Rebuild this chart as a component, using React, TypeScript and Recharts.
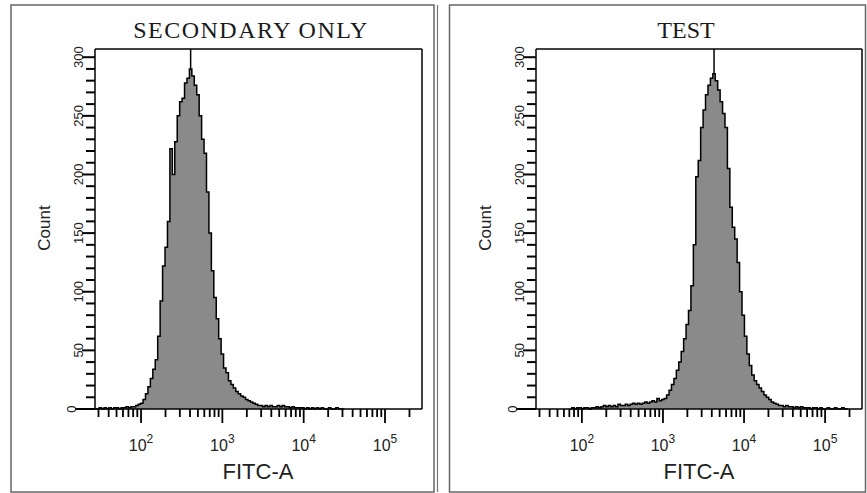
import { ComposedChart, Area, XAxis, YAxis, ReferenceLine } from 'recharts';

const secondaryBins = [
  1.44, 1.47, 1.50, 1.53, 1.56, 1.59, 1.62, 1.65, 1.68, 1.71, 1.74, 1.77, 1.80, 1.83, 1.86, 1.89, 1.92, 1.95, 1.98, 2.01,
  2.04, 2.07, 2.10, 2.13, 2.16, 2.19, 2.22, 2.25, 2.28, 2.31, 2.34, 2.37, 2.40, 2.43, 2.46, 2.49, 2.52, 2.55, 2.58, 2.61,
  2.64, 2.67, 2.70, 2.73, 2.76, 2.79, 2.82, 2.85, 2.88, 2.91, 2.94, 2.97, 3.00, 3.03, 3.06, 3.09, 3.12, 3.15, 3.18, 3.21,
  3.24, 3.27, 3.30, 3.33, 3.36, 3.39, 3.42, 3.45, 3.48, 3.51, 3.54, 3.57, 3.60, 3.63, 3.66, 3.69, 3.72, 3.75, 3.78, 3.81,
  3.84, 3.87, 3.90, 3.93, 3.96, 3.99, 4.02, 4.05, 4.08, 4.11, 4.14, 4.17, 4.20, 4.23, 4.26, 4.29, 4.32, 4.35, 4.38, 4.41,
  4.44, 4.47, 4.50,
];
const secondaryCounts = [
  0, 0, 1, 0, 1, 0, 1, 0, 1, 1, 0, 1, 1, 2, 1, 2, 2, 3, 4, 5,
  8, 13, 19, 26, 34, 42, 62, 92, 122, 138, 160, 222, 200, 228, 250, 262, 265, 278, 282, 290,
  284, 276, 268, 250, 230, 218, 185, 150, 118, 95, 77, 60, 47, 35, 31, 24, 21, 18, 15, 13,
  11, 10, 8, 7, 6, 5, 4, 3, 3, 2, 3, 2, 3, 2, 2, 3, 2, 3, 2, 2,
  1, 2, 1, 1, 1, 1, 0, 1, 0, 1, 0, 1, 0, 1, 0, 0, 1, 0, 0, 1,
  0, 0, 0,
];

const testBins = [
  1.86, 1.89, 1.92, 1.95, 1.98, 2.01, 2.04, 2.07, 2.10, 2.13, 2.16, 2.19, 2.22, 2.25, 2.28, 2.31, 2.34, 2.37, 2.40, 2.43,
  2.46, 2.49, 2.52, 2.55, 2.58, 2.61, 2.64, 2.67, 2.70, 2.73, 2.76, 2.79, 2.82, 2.85, 2.88, 2.91, 2.94, 2.97, 3.00, 3.03,
  3.06, 3.09, 3.12, 3.15, 3.18, 3.21, 3.24, 3.27, 3.30, 3.33, 3.36, 3.39, 3.42, 3.45, 3.48, 3.51, 3.54, 3.57, 3.60, 3.63,
  3.66, 3.69, 3.72, 3.75, 3.78, 3.81, 3.84, 3.87, 3.90, 3.93, 3.96, 3.99, 4.02, 4.05, 4.08, 4.11, 4.14, 4.17, 4.20, 4.23,
  4.26, 4.29, 4.32, 4.35, 4.38, 4.41, 4.44, 4.47, 4.50, 4.53, 4.56, 4.59, 4.62, 4.65, 4.68, 4.71, 4.74, 4.77, 4.80, 4.83,
  4.86, 4.89, 4.92, 4.95, 4.98, 5.01, 5.04, 5.07, 5.10, 5.13, 5.16, 5.19, 5.22, 5.25, 5.28,
];
const testCounts = [
  0, 1, 0, 1, 1, 0, 1, 1, 0, 1, 1, 2, 1, 2, 3, 2, 3, 2, 3, 2,
  4, 3, 3, 4, 3, 4, 5, 4, 5, 4, 5, 6, 5, 6, 7, 6, 9, 7, 8, 9,
  12, 16, 21, 26, 33, 40, 49, 60, 72, 84, 105, 140, 198, 212, 240, 255, 268, 276, 282, 286,
  280, 272, 262, 252, 240, 205, 172, 155, 145, 125, 100, 80, 62, 47, 37, 29, 24, 21, 18, 15,
  12, 10, 8, 6, 5, 4, 3, 3, 2, 3, 2, 2, 1, 2, 1, 2, 1, 1, 1, 0,
  1, 1, 0, 1, 0, 0, 1, 0, 0, 1, 0, 0, 1, 0, 0,
];

// axis: log10 units, 10^1.434 .. 10^5.455 (instrument top ~262144)
const xDomain = [1.434, 5.455];
const decades = [1, 2, 3, 4, 5];
const majorDecades = [2, 3, 4, 5];
const yDomain = [0, 307];
const yMajorStep = 50;
const yMinorStep = 10;
const yTop = 300;

const xTicks = decades
  .flatMap((d) => [1, 2, 3, 4, 5, 6, 7, 8, 9].map((k) => Math.log10(k * Math.pow(10, d))))
  .filter((v) => v >= xDomain[0] && v <= xDomain[1]);
const yTicks = Array.from({ length: yTop / yMinorStep + 1 }, (_, i) => i * yMinorStep);

const sans = 'Liberation Sans, Arial, sans-serif';
const serif = 'Liberation Serif, Times New Roman, serif';
const ink = '#000';
const minorLen = 9;

const XTick = (props: any) => {
  const x = Number(props.x);
  const y = Number(props.y);
  const v = props.payload.value;
  const n = Math.round(v);
  const major = Math.abs(v - n) < 1e-6 && majorDecades.includes(n);
  return (
    <g>
      <path d={`M${x},${y}v${major ? 14 : 8}`} stroke={ink} strokeWidth={1.8} fill="none" />
      {major && (
        <text x={x} y={y + 42} textAnchor="middle" fontFamily={sans} fontSize={16} fill="#222">
          10<tspan dy={-8} fontSize={12}>{n}</tspan>
        </text>
      )}
    </g>
  );
};

// x here is the outer end of the built-in (minor length) tick line
const YTick = (props: any) => {
  const x = Number(props.x);
  const y = Number(props.y);
  const v = props.payload.value;
  if (v % yMajorStep !== 0) return <g />;
  const extra = v === 0 ? 11 : 4;
  const lx = v === 0 ? x - 15 : x - 8;
  return (
    <g>
      <rect x={x - extra} y={y - 1} width={extra} height={2} fill={ink} />
      <text
        x={lx}
        y={y}
        dy="0.35em"
        transform={`rotate(-90 ${lx} ${y})`}
        textAnchor="middle"
        fontFamily={sans}
        fontSize={13}
        fill="#222"
      >
        {v}
      </text>
    </g>
  );
};

function Histogram({ bins, counts, width, yAxisWidth, right }: any) {
  const data = bins.map((x: number, i: number) => ({ x, count: counts[i] }));
  const peak = data.reduce((a: any, b: any) => (b.count > a.count ? b : a));
  return (
    <ComposedChart
      width={width}
      height={493}
      data={data}
      margin={{ top: 48, right, bottom: 83, left: 0 }}
    >
      <XAxis
        dataKey="x"
        type="number"
        domain={xDomain}
        allowDataOverflow
        ticks={xTicks}
        interval={0}
        height={1}
        tickSize={0}
        tickMargin={0}
        tickLine={false}
        tick={<XTick />}
        axisLine={{ stroke: ink, strokeWidth: 1.5 }}
      />
      <XAxis
        xAxisId="top"
        orientation="top"
        type="number"
        domain={xDomain}
        height={1}
        tick={false}
        tickLine={false}
        axisLine={{ stroke: ink, strokeWidth: 1.5 }}
      />
      <YAxis
        type="number"
        domain={yDomain}
        ticks={yTicks}
        interval={0}
        width={yAxisWidth}
        tickSize={minorLen}
        tickMargin={0}
        tickLine={{ stroke: ink, strokeWidth: 2 }}
        tick={<YTick />}
        axisLine={{ stroke: ink, strokeWidth: 1.5 }}
      />
      <YAxis
        yAxisId="right"
        orientation="right"
        type="number"
        domain={yDomain}
        width={1}
        tick={false}
        tickLine={false}
        axisLine={{ stroke: ink, strokeWidth: 1.5 }}
      />
      <Area
        type="step"
        dataKey="count"
        stroke={ink}
        strokeWidth={1.5}
        fill="#8a8a8a"
        fillOpacity={1}
        dot={false}
        activeDot={false}
        isAnimationActive={false}
      />
      <ReferenceLine
        segment={[
          { x: peak.x, y: peak.count },
          { x: peak.x, y: yDomain[1] },
        ]}
        stroke={ink}
        strokeWidth={1.5}
      />
    </ComposedChart>
  );
}

export default function App() {
  return (
    <div style={{ position: 'absolute', left: 0, top: 0, width: 867, height: 493, background: '#fff', overflow: 'hidden' }}>
      <div style={{ position: 'absolute', left: 0, top: 0 }}>
        <Histogram bins={secondaryBins} counts={secondaryCounts} width={440} yAxisWidth={95} right={17} />
      </div>
      <div style={{ position: 'absolute', left: 440, top: 0 }}>
        <Histogram bins={testBins} counts={testCounts} width={427} yAxisWidth={96} right={4} />
      </div>
      <svg width={867} height={493} style={{ position: 'absolute', left: 0, top: 0, pointerEvents: 'none' }}>
        <rect x={11} y={5} width={423} height={487} fill="none" stroke="#666" strokeWidth={1.5} />
        <line x1={437.5} x2={437.5} y1={5} y2={492} stroke="#777" strokeWidth={1.2} />
        <rect x={449.5} y={5} width={416} height={487} fill="none" stroke="#666" strokeWidth={1.5} />
        <text x={251} y={38} textAnchor="middle" fontFamily={serif} fontSize={24} letterSpacing={1.5} fill="#1a1a1a">
          SECONDARY ONLY
        </text>
        <text x={686} y={38} textAnchor="middle" fontFamily={serif} fontSize={24} fill="#1a1a1a">
          TEST
        </text>
        <text x={44} y={228} dy="0.35em" transform="rotate(-90 44 228)" textAnchor="middle" fontFamily={sans} fontSize={17} fill="#222">
          Count
        </text>
        <text x={485} y={228} dy="0.35em" transform="rotate(-90 485 228)" textAnchor="middle" fontFamily={sans} fontSize={17} fill="#222">
          Count
        </text>
        <text x={258} y={479} textAnchor="middle" fontFamily={sans} fontSize={22} fill="#222">
          FITC-A
        </text>
        <text x={699} y={479} textAnchor="middle" fontFamily={sans} fontSize={22} fill="#222">
          FITC-A
        </text>
      </svg>
    </div>
  );
}
